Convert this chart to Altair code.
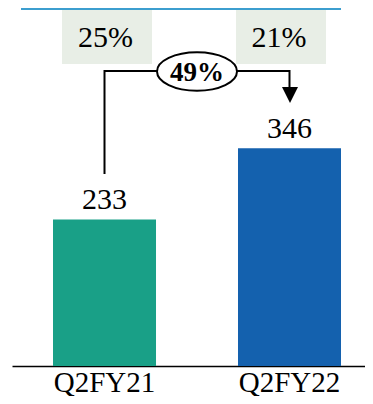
import altair as alt
import pandas as pd

categories = ["Q2FY21", "Q2FY22"]
revenue = [233, 346]
share_labels = ["25%", "21%"]
growth_label = "49%"
bar_colors = ["#19a087", "#1461ae"]

FONT = "Liberation Serif"
df = pd.DataFrame({"cat": categories, "val": revenue, "share": share_labels,
                   "lo": [480, 480], "hi": [569, 569], "sy": [507, 507]})

xenc = alt.X(
    "cat:N",
    sort=categories,
    scale=alt.Scale(paddingInner=0.4432, paddingOuter=0.1757, align=0.6308),
    axis=alt.Axis(
        title=None, labelAngle=0, ticks=False, tickSize=0, grid=False,
        labelFont=FONT, labelFontSize=29, labelColor="black",
        labelBaseline="alphabetic", labelPadding=25,
        domainColor="black", domainWidth=1.5,
    ),
)
yscale = alt.Scale(domain=[0, 569], nice=False, zero=True)


def Y(f):
    return alt.Y(f, scale=yscale, axis=None, title=None)


base = alt.Chart(df)

bars = base.mark_bar().encode(
    x=xenc, y=Y("val:Q"),
    color=alt.Color("cat:N", scale=alt.Scale(domain=categories, range=bar_colors), legend=None),
)
value_text = base.mark_text(font=FONT, fontSize=30, baseline="alphabetic", dy=-10, color="black").encode(
    x=xenc, y=Y("val:Q"), text="val:Q"
)

BOX_COLOR = "#e8eee6"
box1 = base.transform_filter(alt.datum.cat == categories[0]).mark_bar(
    width=90, xOffset=2.5, color=BOX_COLOR
).encode(x=xenc, y=Y("lo:Q"), y2="hi:Q")
box2 = base.transform_filter(alt.datum.cat == categories[1]).mark_bar(
    width=90, xOffset=-8.5, color=BOX_COLOR
).encode(x=xenc, y=Y("lo:Q"), y2="hi:Q")

share1 = base.transform_filter(alt.datum.cat == categories[0]).mark_text(
    font=FONT, fontSize=30, baseline="alphabetic", dx=1, color="black"
).encode(x=xenc, y=Y("sy:Q"), text="share:N")
share2 = base.transform_filter(alt.datum.cat == categories[1]).mark_text(
    font=FONT, fontSize=30, baseline="alphabetic", dx=-10.5, color="black"
).encode(x=xenc, y=Y("sy:Q"), text="share:N")

bracket_df = pd.DataFrame({
    "cat": [categories[0], categories[0], categories[1], categories[1]],
    "v": [305, 469, 469, 432],
    "o": [0, 1, 2, 3],
})
bracket = alt.Chart(bracket_df).mark_line(color="black", strokeWidth=2, strokeJoin="miter").encode(
    x=xenc, y=Y("v:Q"), order="o:Q"
)

arrow_df = pd.DataFrame({"cat": [categories[1]], "v": [430.7]})
arrow = alt.Chart(arrow_df).mark_point(
    shape="M -1 -1 L 1 -1 L 0 1 Z", size=256, filled=True, color="black", opacity=1, xOffset=0.5
).encode(x=xenc, y=Y("v:Q"))

ell_df = pd.DataFrame({"cat": [categories[0]], "v": [468], "g": [growth_label]})
ellipse = alt.Chart(ell_df).mark_point(
    shape="M -1 0 A 1 0.48 0 1 0 1 0 A 1 0.48 0 1 0 -1 0 Z",
    size=6400, filled=True, fill="white", stroke="black", strokeWidth=2, opacity=1, xOffset=92.5,
).encode(x=xenc, y=Y("v:Q"))
growth_text = alt.Chart(ell_df).mark_text(
    font=FONT, fontSize=27, fontWeight="bold", baseline="alphabetic", dx=92.5, dy=9, color="black"
).encode(x=xenc, y=Y("v:Q"), text="g:N")

top_line = alt.Chart(df).mark_rule(color="#3c9ecf", strokeWidth=2).encode(
    x=alt.value(9), x2=alt.value(329), y=alt.value(1)
)

chart = alt.layer(
    box1, box2, share1, share2, bars, value_text, bracket, arrow, ellipse, growth_text, top_line
).properties(
    width=353, height=358,
    autosize=alt.AutoSizeParams(type="none"),
    padding={"left": 4, "top": 0, "right": 0, "bottom": 30},
    background="white",
).configure_view(stroke=None)

chart.save("out.html", embed_options={"renderer": "svg", "actions": False})
